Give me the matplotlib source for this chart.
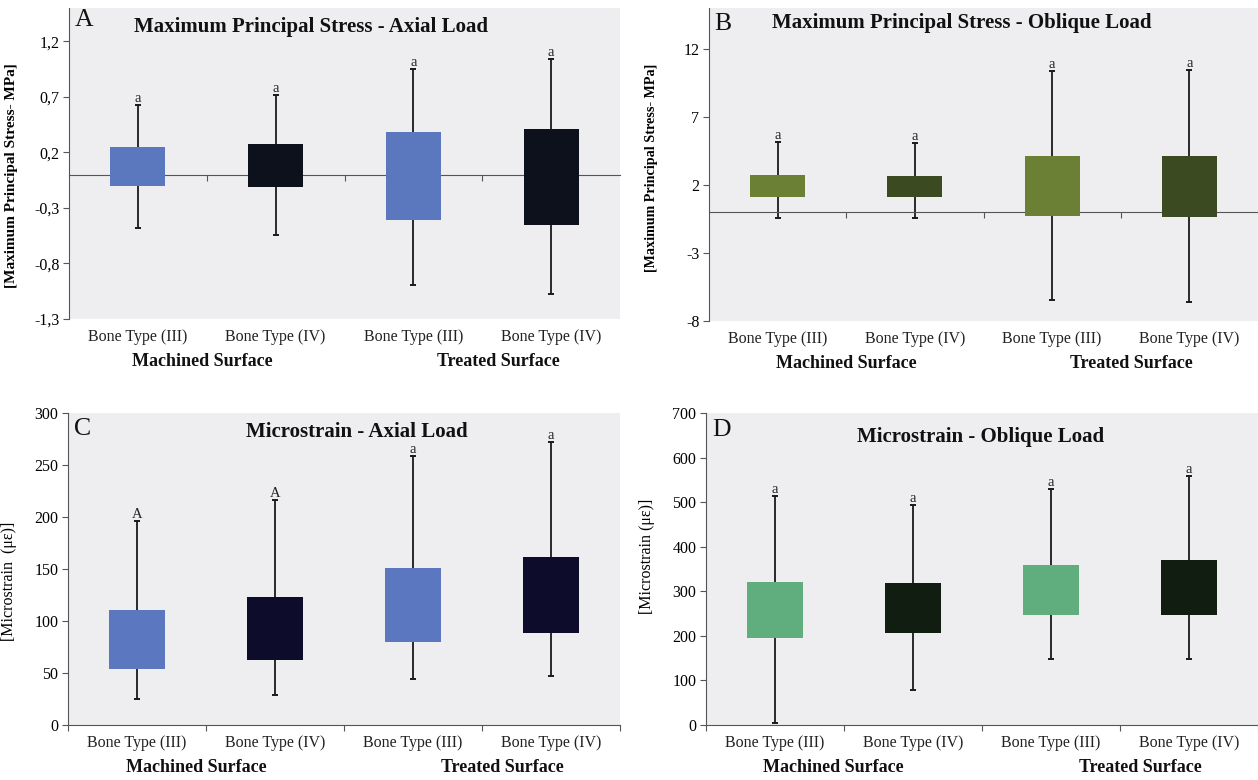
import matplotlib
matplotlib.use("Agg")
import matplotlib.pyplot as plt
import matplotlib.transforms as mtransforms

plt.rcParams["font.family"] = ["Liberation Serif", "DejaVu Serif"]

# Data: box = [low, high], whiskers = [min, max]
categories = ["Bone Type (III)", "Bone Type (IV)", "Bone Type (III)", "Bone Type (IV)"]
groups = ["Machined Surface", "Treated Surface"]

a_low = [-0.10, -0.11, -0.41, -0.45]
a_high = [0.25, 0.28, 0.38, 0.41]
a_min = [-0.485, -0.545, -0.99, -1.075]
a_max = [0.63, 0.715, 0.95, 1.04]
a_marks = ["a", "a", "a", "a"]

b_low = [1.09, 1.11, -0.29, -0.34]
b_high = [2.71, 2.69, 4.11, 4.16]
b_min = [-0.41, -0.41, -6.43, -6.60]
b_max = [5.19, 5.07, 10.35, 10.43]
b_marks = ["a", "a", "a", "a"]

c_low = [54, 62.6, 80.2, 88.5]
c_high = [110.7, 123.5, 150.8, 162]
c_min = [24.7, 28.9, 44.3, 47.5]
c_max = [196.6, 215.9, 258.3, 272]
c_marks = ["A", "A", "a", "a"]

d_low = [194.7, 205.9, 247.7, 247]
d_high = [320.4, 319.6, 360, 369.8]
d_min = [5.2, 78.6, 147.5, 147.5]
d_max = [512.7, 493.3, 530, 557.6]
d_marks = ["a", "a", "a", "a"]

BG = "#eeeef1"
SPINE = "#555555"

W, H = 1258, 780
fig = plt.figure(figsize=(W / 100, H / 100), dpi=100)


def px_axes(left, right, top, bottom):
    return fig.add_axes([left / W, 1 - bottom / H, (right - left) / W, (bottom - top) / H])


def panel(ax, low, high, vmin, vmax, marks, colors, ylim, yticks, yticklabels,
          title, letter, title_pos, letter_pos, ylabel, ylabel_kw, ylabel_pos,
          zero_axis, group_x):
    x = list(range(len(categories)))
    ax.set_facecolor(BG)
    heights = [h - l for l, h in zip(low, high)]
    mids = [(l + h) / 2 for l, h in zip(low, high)]
    ax.errorbar(x, mids, yerr=[[m - lo for m, lo in zip(mids, vmin)],
                               [hi - m for m, hi in zip(mids, vmax)]],
                fmt="none", ecolor="#1a1a1a", elinewidth=1.3, capsize=2.3,
                capthick=1.4, zorder=2)
    ax.bar(x, heights, bottom=low, width=0.4, color=colors, zorder=3)
    for xi, top, m in zip(x, vmax, marks):
        ax.annotate(m, (xi, top), xytext=(0, 0), textcoords="offset points",
                    ha="center", va="bottom", fontsize=10.5, color="#222222")

    ax.set_xlim(-0.5, 3.5)
    ax.set_ylim(*ylim)
    ax.set_yticks(yticks)
    ax.set_yticklabels(yticklabels, fontsize=11.5)
    ax.tick_params(axis="y", direction="out", length=4, color=SPINE, pad=3)

    for s in ["top", "right"]:
        ax.spines[s].set_visible(False)
    ax.spines["left"].set_color(SPINE)
    ax.spines["bottom"].set_color(SPINE)
    if zero_axis:
        ax.spines["bottom"].set_position(("data", 0))
        ax.set_xticks([0.5, 1.5, 2.5])
    else:
        ax.set_xticks([-0.5, 0.5, 1.5, 2.5, 3.5])
    ax.set_xticklabels([])
    ax.tick_params(axis="x", direction="out", length=4, color=SPINE)

    trans = mtransforms.blended_transform_factory(ax.transData, ax.transAxes)
    for xi, c in zip(x, categories):
        ax.annotate(c, (xi, 0), xycoords=trans, xytext=(0, -13), textcoords="offset points",
                    ha="center", va="center", fontsize=11.5, color="#222222")
    for gx, g in zip(group_x, groups):
        ax.annotate(g, (gx, 0), xycoords=trans, xytext=(0, -30.5), textcoords="offset points",
                    ha="center", va="center", fontsize=13, fontweight="bold", color="#111111")

    ax.text(title_pos[0], title_pos[1], title, transform=ax.transAxes, ha="center",
            va="center", fontsize=15, fontweight="bold", color="#111111")
    ax.text(letter_pos[0], letter_pos[1], letter, transform=ax.transAxes, ha="left",
            va="center", fontsize=18.5, color="#111111")
    ax.set_ylabel(ylabel, **ylabel_kw)
    ax.yaxis.set_label_coords(*ylabel_pos)


axA = px_axes(69, 620, 8, 319)
panel(axA, a_low, a_high, a_min, a_max, a_marks, ["#5b77bd", "#0c111c", "#5b77bd", "#0c111c"],
      (-1.3, 1.5), [-1.3, -0.8, -0.3, 0.2, 0.7, 1.2],
      ["-1,3", "-0,8", "-0,3", "0,2", "0,7", "1,2"],
      "Maximum Principal Stress - Axial Load", "A", (0.44, 0.94), (0.01, 0.96),
      "[Maximum Principal Stress- MPa]", dict(fontsize=11, fontweight="bold"),
      (-0.092, 0.46), True, [0.47, 2.62])

axB = px_axes(709, 1258, 8, 321)
panel(axB, b_low, b_high, b_min, b_max, b_marks, ["#6b8034", "#3b4a21", "#6b8034", "#3b4a21"],
      (-8, 15), [-8, -3, 2, 7, 12], ["-8", "-3", "2", "7", "12"],
      "Maximum Principal Stress - Oblique Load", "B", (0.46, 0.952), (0.009, 0.948),
      "[Maximum Principal Stress- MPa]", dict(fontsize=10.2, fontweight="bold"),
      (-0.093, 0.49), True, [0.5, 2.58])

axC = px_axes(68, 620, 413, 725)
panel(axC, c_low, c_high, c_min, c_max, c_marks, ["#5a77bf", "#0d0d2b", "#5a77bf", "#0d0d2b"],
      (0, 300), [0, 50, 100, 150, 200, 250, 300],
      ["0", "50", "100", "150", "200", "250", "300"],
      "Microstrain - Axial Load", "C", (0.524, 0.94), (0.011, 0.95),
      "[Microstrain  (\u03bc\u03b5)]", dict(fontsize=11.5),
      (-0.092, 0.46), False, [0.43, 2.65])

axD = px_axes(706, 1258, 413, 725)
panel(axD, d_low, d_high, d_min, d_max, d_marks, ["#60ad7e", "#121d12", "#60ad7e", "#121d12"],
      (0, 700), [0, 100, 200, 300, 400, 500, 600, 700],
      ["0", "100", "200", "300", "400", "500", "600", "700"],
      "Microstrain - Oblique Load", "D", (0.497, 0.923), (0.011, 0.945),
      "[Microstrain (\u03bc\u03b5)]", dict(fontsize=11.5),
      (-0.092, 0.54), False, [0.42, 2.65])

fig.savefig("out.png", dpi=100)
